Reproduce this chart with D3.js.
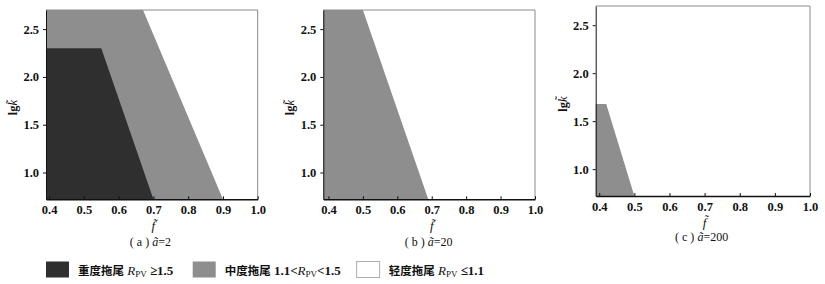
<!DOCTYPE html>
<html>
<head>
<meta charset="utf-8">
<script src="https://cdn.jsdelivr.net/npm/d3@7"></script>
<style>
  body { margin: 0; background: #fff; }
  svg { display: block; }
</style>
</head>
<body>
<svg id="chart" width="825" height="284"></svg>
<script>
// ---- data ----
const panelNames = ["a", "b", "c"];
const panelA = ["2", "20", "200"];
const xTicks = [0.4, 0.5, 0.6, 0.7, 0.8, 0.9, 1.0];
const xTickLabels = ["0.4", "0.5", "0.6", "0.7", "0.8", "0.9", "1.0"];
const yTicks = [1.0, 1.5, 2.0, 2.5];
const yTickLabels = ["1.0", "1.5", "2.0", "2.5"];
const fMax = 1.0;
const kMin = 0.72, kMax = 2.7;
// region boundaries: [top corner (f, lg k), bottom corner (f, lg k)]
// panel a
const heavyA = [{f: 0.55, k: 2.30}, {f: 0.70, k: 0.72}];
const mediumA = [{f: 0.67, k: 2.70}, {f: 0.90, k: 0.72}];
// panel b
const heavyB = [];
const mediumB = [{f: 0.50, k: 2.70}, {f: 0.69, k: 0.72}];
// panel c
const heavyC = [];
const mediumC = [{f: 0.42, k: 1.68}, {f: 0.50, k: 0.72}];
const legendLabels = ["重度拖尾", "中度拖尾", "轻度拖尾"];
const legendPre = ["", "1.1<", ""];
const legendConds = [" ≥1.5", "<1.5", " ≤1.1"];
const colors = {heavy: "#2f2f2f", medium: "#8e8e8e", light: "#ffffff"};

const SERIF = "'Liberation Serif', 'Times New Roman', 'DejaVu Serif', serif";
const CJK = "'Noto Sans CJK SC', sans-serif";

// ---- layout ----
const layouts = [
  {left: 46, right: 257.7, top: 10, bottom: 199.3, fmin: 0.391},
  {left: 323.3, right: 535, top: 10, bottom: 199.3, fmin: 0.385},
  {left: 595.7, right: 810, top: 6, bottom: 196, fmin: 0.39}
];
const regions = [
  {heavy: heavyA, medium: mediumA},
  {heavy: heavyB, medium: mediumB},
  {heavy: heavyC, medium: mediumC}
];

const svg = d3.select("#chart");

layouts.forEach((L, i) => {
  const x = d3.scaleLinear().domain([L.fmin, fMax]).range([L.left, L.right]);
  const y = d3.scaleLinear().domain([kMin, kMax]).range([L.bottom, L.top]);
  const g = svg.append("g");
  const poly = (b) => {
    const pts = [[L.fmin, kMin], [L.fmin, b[0].k], [b[0].f, b[0].k], [b[1].f, b[1].k]];
    return d3.line().x(d => x(d[0])).y(d => y(d[1]))(pts) + "Z";
  };
  if (regions[i].medium.length) g.append("path").attr("d", poly(regions[i].medium)).attr("fill", colors.medium);
  if (regions[i].heavy.length) g.append("path").attr("d", poly(regions[i].heavy)).attr("fill", colors.heavy);

  // frame top/right
  g.append("line").attr("x1", L.left).attr("x2", L.right).attr("y1", L.top).attr("y2", L.top)
    .attr("stroke", "#8a8a8a").attr("stroke-width", 1);
  g.append("line").attr("x1", L.right).attr("x2", L.right).attr("y1", L.top).attr("y2", L.bottom)
    .attr("stroke", "#8a8a8a").attr("stroke-width", 1);

  // axes
  const xAxis = d3.axisBottom(x).tickValues(xTicks).tickFormat((d, j) => xTickLabels[j]).tickSizeInner(-3).tickSizeOuter(0).tickPadding(6);
  const gx = g.append("g").attr("transform", `translate(0,${L.bottom})`).call(xAxis);
  gx.select(".domain").attr("stroke", "#111").attr("stroke-width", 1.5);
  gx.selectAll(".tick line").attr("stroke", "#111");

  const yAxis = d3.axisLeft(y).tickValues(yTicks).tickFormat((d, j) => yTickLabels[j]).tickSizeInner(3).tickSizeOuter(0).tickPadding(4);
  const gy = g.append("g").attr("transform", `translate(${L.left},0)`).call(yAxis);
  gy.select(".domain").attr("stroke", "#111").attr("stroke-width", 1);
  gy.selectAll(".tick line").attr("stroke", "#111");

  [gx, gy].forEach(a => a.selectAll(".tick text")
    .style("font-family", SERIF).style("font-weight", "bold").style("font-size", "12.5px").attr("fill", "#111"));

  // y label
  const yl = g.append("text")
    .attr("transform", `translate(${L.left - 29},${(L.top + L.bottom) / 2 + 3}) rotate(-90)`)
    .attr("text-anchor", "middle").style("font-family", SERIF).style("font-size", "12.5px").attr("fill", "#111");
  yl.append("tspan").style("font-weight", "bold").text("lg");
  yl.append("tspan").style("font-style", "italic").text("k\u0303");

  // x label
  g.append("text").attr("x", x(0.7)).attr("y", L.bottom + 31)
    .attr("text-anchor", "middle").style("font-family", SERIF).style("font-style", "italic")
    .style("font-size", "13px").attr("fill", "#111").text("f\u0303");

  // subtitle
  const t = g.append("text").attr("x", x(0.7) - 3).attr("y", L.bottom + 47 - (i === 2 ? 2 : 0))
    .attr("text-anchor", "middle").style("font-family", SERIF).style("font-size", "12px").attr("fill", "#111");
  t.append("tspan").text(`( ${panelNames[i]} ) `);
  t.append("tspan").style("font-style", "italic").text("a\u0303");
  t.append("tspan").text("=" + panelA[i]);
});

// legend
const legX = [46, 192.7, 356.7];
const legFill = [colors.heavy, colors.medium, colors.light];
legendLabels.forEach((lab, i) => {
  const g = svg.append("g");
  g.append("rect").attr("x", legX[i]).attr("y", 261.5).attr("width", 23).attr("height", 16)
    .attr("fill", legFill[i]).attr("stroke", i === 2 ? "#999" : "none").attr("stroke-width", 0.8);
  const t = g.append("text").attr("x", legX[i] + 32).attr("y", 274.5).attr("fill", "#111");
  t.append("tspan").style("font-family", CJK).style("font-weight", "bold").style("font-size", "11.5px").text(lab);
  t.append("tspan").style("font-family", SERIF).style("font-size", "13px").text(" ");
  if (legendPre[i]) t.append("tspan").style("font-family", SERIF).style("font-weight", "bold").style("font-size", "13px").text(legendPre[i]);
  t.append("tspan").style("font-family", SERIF).style("font-style", "italic").style("font-size", "13px").text("R");
  t.append("tspan").style("font-family", SERIF).style("font-size", "9px").attr("dy", 2.5).text("PV");
  t.append("tspan").attr("dy", -2.5).style("font-family", SERIF).style("font-weight", "bold").style("font-size", "13px").text(legendConds[i]);
});
</script>
</body>
</html>
